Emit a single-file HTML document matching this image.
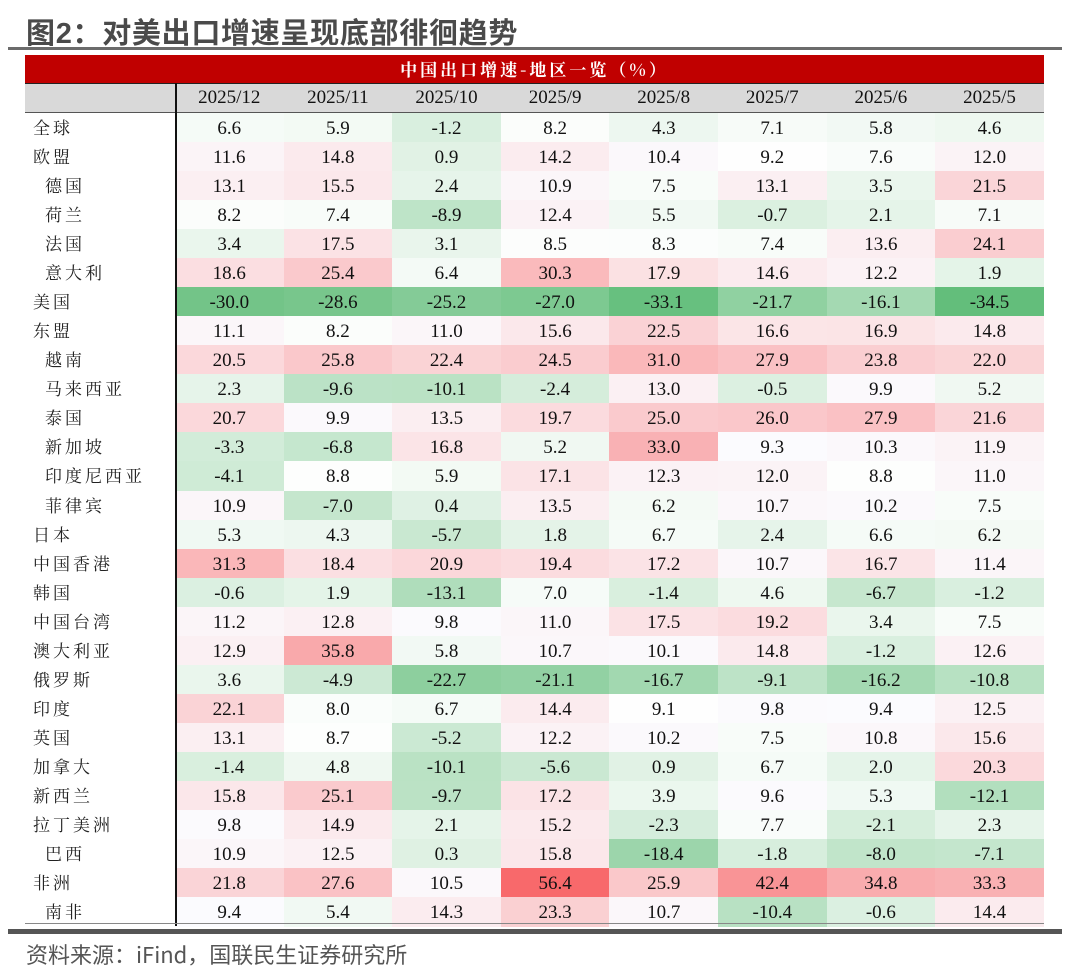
<!DOCTYPE html>
<html><head><meta charset="utf-8">
<style>
body{margin:0;width:1080px;height:973px;background:#fff;position:relative;overflow:hidden;font-family:"Liberation Serif","Noto Serif CJK SC",serif;}
#title{position:absolute;left:26px;top:10px;font:bold 29px "Liberation Sans","Noto Sans CJK SC",sans-serif;color:#4a4a4a;letter-spacing:0.7px;white-space:nowrap;}
#tline{position:absolute;left:8px;top:47px;width:1054px;height:3px;background:#6b6b6b;}
#banner{position:absolute;left:25px;top:55px;width:1019px;height:28px;background:#c00000;color:#fff;font:bold 17px "Noto Serif CJK SC",serif;text-align:center;line-height:28px;letter-spacing:3px;}
#tbl{position:absolute;left:25px;top:83px;}
.cell{position:absolute;height:29px;line-height:29px;text-align:center;font-size:19px;color:#111;white-space:nowrap;}
.lab{position:absolute;height:29px;line-height:29px;font:17px "Noto Serif CJK SC",serif;color:#222;letter-spacing:3px;white-space:nowrap;}
#bot1{position:absolute;left:25px;top:923px;width:1019px;height:1px;background:#888;}
#bot2{position:absolute;left:8px;top:929px;width:1054px;height:5px;background:#555;}
#src{position:absolute;left:26px;top:938px;font:22px "Noto Sans CJK SC",sans-serif;color:#555;white-space:nowrap;}
</style></head><body>
<div id="title">图2：对美出口增速呈现底部徘徊趋势</div>
<div id="tline"></div>
<div id="banner">中国出口增速-地区一览（%）</div>
<div id="tbl"></div>
<div id="bot1"></div>
<div id="bot2"></div>
<div id="src">资料来源：iFind，国联民生证券研究所</div>
<script>
const months=["2025/12","2025/11","2025/10","2025/9","2025/8","2025/7","2025/6","2025/5"];
const regions=["全球","欧盟","德国","荷兰","法国","意大利","美国","东盟","越南","马来西亚","泰国","新加坡","印度尼西亚","菲律宾","日本","中国香港","韩国","中国台湾","澳大利亚","俄罗斯","印度","英国","加拿大","新西兰","拉丁美洲","巴西","非洲","南非"];
const indented=[0,0,1,1,1,1,0,0,1,1,1,1,1,1,0,0,0,0,0,0,0,0,0,0,0,1,0,1];
const values=[
[6.6,5.9,-1.2,8.2,4.3,7.1,5.8,4.6],
[11.6,14.8,0.9,14.2,10.4,9.2,7.6,12.0],
[13.1,15.5,2.4,10.9,7.5,13.1,3.5,21.5],
[8.2,7.4,-8.9,12.4,5.5,-0.7,2.1,7.1],
[3.4,17.5,3.1,8.5,8.3,7.4,13.6,24.1],
[18.6,25.4,6.4,30.3,17.9,14.6,12.2,1.9],
[-30.0,-28.6,-25.2,-27.0,-33.1,-21.7,-16.1,-34.5],
[11.1,8.2,11.0,15.6,22.5,16.6,16.9,14.8],
[20.5,25.8,22.4,24.5,31.0,27.9,23.8,22.0],
[2.3,-9.6,-10.1,-2.4,13.0,-0.5,9.9,5.2],
[20.7,9.9,13.5,19.7,25.0,26.0,27.9,21.6],
[-3.3,-6.8,16.8,5.2,33.0,9.3,10.3,11.9],
[-4.1,8.8,5.9,17.1,12.3,12.0,8.8,11.0],
[10.9,-7.0,0.4,13.5,6.2,10.7,10.2,7.5],
[5.3,4.3,-5.7,1.8,6.7,2.4,6.6,6.2],
[31.3,18.4,20.9,19.4,17.2,10.7,16.7,11.4],
[-0.6,1.9,-13.1,7.0,-1.4,4.6,-6.7,-1.2],
[11.2,12.8,9.8,11.0,17.5,19.2,3.4,7.5],
[12.9,35.8,5.8,10.7,10.1,14.8,-1.2,12.6],
[3.6,-4.9,-22.7,-21.1,-16.7,-9.1,-16.2,-10.8],
[22.1,8.0,6.7,14.4,9.1,9.8,9.4,12.5],
[13.1,8.7,-5.2,12.2,10.2,7.5,10.8,15.6],
[-1.4,4.8,-10.1,-5.6,0.9,6.7,2.0,20.3],
[15.8,25.1,-9.7,17.2,3.9,9.6,5.3,-12.1],
[9.8,14.9,2.1,15.2,-2.3,7.7,-2.1,2.3],
[10.9,12.5,0.3,15.8,-18.4,-1.8,-8.0,-7.1],
[21.8,27.6,10.5,56.4,25.9,42.4,34.8,33.3],
[9.4,5.4,14.3,23.3,10.7,-10.4,-0.6,14.4]];
const tbl=document.getElementById('tbl');
const labW=150,colW=108.6,rowH=29.04,hdrH=30;
const flat=values.flat();const vmin=Math.min(...flat),vmax=Math.max(...flat);
const sorted=[...flat].sort((a,b)=>a-b);const mid=(sorted[111]+sorted[112])/2;
function color(v){
  let r,g,b,t;
  if(v<mid){t=(mid-v)/(mid-vmin);r=255+(99-255)*t;g=255+(190-255)*t;b=255+(123-255)*t;}
  else{t=(v-mid)/(vmax-mid);r=252+(248-252)*t;g=252+(105-252)*t;b=255+(107-255)*t;}
  return `rgb(${r|0},${g|0},${b|0})`;
}
function add(tag,cls,style,text){const d=document.createElement(tag);d.className=cls;Object.assign(d.style,style);if(text!=null)d.textContent=text;tbl.appendChild(d);return d;}
const hb=add('div','',{position:'absolute',left:'0px',top:'0px',width:(labW+8*colW)+'px',height:hdrH+'px',background:'#d9d9d9',borderTop:'1.5px solid #222',borderBottom:'1.5px solid #555',boxSizing:'border-box'});


months.forEach((m,j)=>{
  const h=add('div','cell',{left:(labW+j*colW)+'px',top:'0px',width:colW+'px',height:hdrH+'px',lineHeight:hdrH+'px'},m);
  
  
});
regions.forEach((r,i)=>{
  const y=hdrH+i*rowH;
  const l=add('div','lab',{left:(indented[i]?20:8)+'px',top:(y+1)+'px'},r);
  
  
  values[i].forEach((v,j)=>{
    const c=add('div','cell',{left:(labW+j*colW)+'px',top:y+'px',width:colW+'px',height:(rowH+0.5)+'px',lineHeight:(rowH+2)+'px',background:color(v)},v.toFixed(1));
    
    
  });
});
const vl=add('div','',{left:labW+'px',top:'0px',width:'2px',height:(hdrH+28*rowH)+'px',background:'#111',position:'absolute'});


</script>
</body></html>
